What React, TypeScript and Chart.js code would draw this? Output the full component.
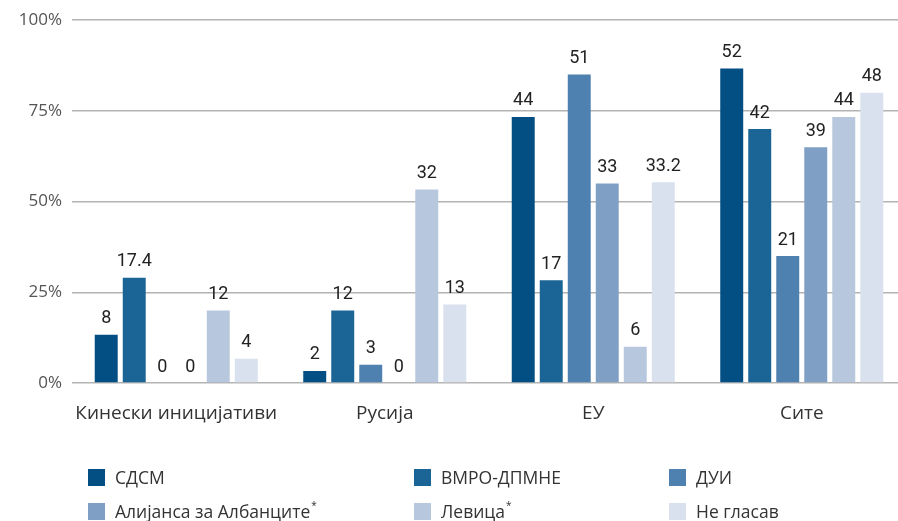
import React, { useEffect, useRef } from "react";
import { Chart, registerables } from "chart.js";

Chart.register(...registerables);

const categories = ["Кинески иницијативи", "Русија", "ЕУ", "Сите"];
const seriesNames = ["СДСМ", "ВМРО-ДПМНЕ", "ДУИ", "Алијанса за Албанците*", "Левица*", "Не гласав"];
const sdsm = [8, 2, 44, 52];
const vmro = [17.4, 12, 17, 42];
const dui = [0, 3, 51, 21];
const alijansa = [0, 0, 33, 39];
const levica = [12, 32, 6, 44];
const neGlasav = [4, 13, 33.2, 48];
const seriesValues = [sdsm, vmro, dui, alijansa, levica, neGlasav];
const colors = ["#034f84", "#1b6596", "#4e80b0", "#7fa0c4", "#b7c8de", "#d9e1ee"];
const valueLabels = [
  ["8", "2", "44", "52"],
  ["17.4", "12", "17", "42"],
  ["0", "3", "51", "21"],
  ["0", "0", "33", "39"],
  ["12", "32", "6", "44"],
  ["4", "13", "33.2", "48"],
];
const yMax = 60;
const yStep = 15;

const valueLabelPlugin = {
  id: "valueLabels",
  afterDatasetsDraw(chart: any) {
    const ctx = chart.ctx;
    ctx.save();
    ctx.font = "400 18px 'Roboto', sans-serif";
    ctx.fillStyle = "#222222";
    ctx.textAlign = "center";
    ctx.textBaseline = "bottom";
    chart.data.datasets.forEach((ds: any, i: number) => {
      const meta = chart.getDatasetMeta(i);
      meta.data.forEach((bar: any, j: number) => {
        ctx.fillText(valueLabels[i][j], bar.x, bar.y - 7);
      });
    });
    ctx.restore();
  },
};

const legendPlugin = {
  id: "customLegend",
  afterDraw(chart: any) {
    const ctx = chart.ctx;
    const colX = [88, 414, 669];
    const rowY = [478, 512];
    ctx.save();
    ctx.font = "17.5px 'Open Sans', sans-serif";
    ctx.textBaseline = "middle";
    ctx.textAlign = "left";
    seriesNames.forEach((name, i) => {
      const x = colX[i % 3];
      const y = rowY[Math.floor(i / 3)];
      ctx.fillStyle = colors[i];
      ctx.fillRect(x, y - 9, 17, 17);
      ctx.fillStyle = "#333333";
      let label = name;
      let star = false;
      if (name.endsWith("*")) {
        label = name.slice(0, -1);
        star = true;
      }
      ctx.fillText(label, x + 27, y + 1);
      if (star) {
        const w = ctx.measureText(label).width;
        ctx.save();
        ctx.font = "10px 'Open Sans', sans-serif";
        ctx.fillText("*", x + 28 + w, y - 6);
        ctx.restore();
      }
    });
    ctx.restore();
  },
};

export default function App() {
  const ref = useRef<HTMLCanvasElement>(null);
  useEffect(() => {
    if (!ref.current) return;
    const chart = new Chart(ref.current, {
      type: "bar",
      data: {
        labels: categories,
        datasets: seriesValues.map((vals, i) => ({
          label: seriesNames[i],
          data: vals,
          backgroundColor: colors[i],
          borderWidth: 0,
          categoryPercentage: 0.806,
          barPercentage: 0.82,
        })),
      },
      options: {
        animation: false,
        responsive: false,
        maintainAspectRatio: false,
        layout: { padding: { top: 19, bottom: 0, left: 0, right: 0 } },
        plugins: {
          legend: { display: false },
          tooltip: { enabled: false },
        },
        scales: {
          x: {
            grid: { display: false, drawTicks: false },
            border: { display: false },
            ticks: {
              color: "#333333",
              font: { family: "'Open Sans', sans-serif", size: 19 },
              padding: 19,
              maxRotation: 0,
            },
            afterFit(scale: any) {
              scale.height = 138;
            },
          },
          y: {
            min: 0,
            max: yMax,
            grid: { color: "#b3b3b3", lineWidth: 1.5, drawTicks: false },
            border: { display: false },
            ticks: {
              stepSize: yStep,
              color: "#555555",
              padding: 10,
              font: { family: "'Open Sans', sans-serif", size: 17 },
              callback: (v: any) => Math.round((Number(v) / yMax) * 100) + "%",
            },
            afterFit(scale: any) {
              scale.width = 72;
            },
          },
        },
      },
      plugins: [valueLabelPlugin, legendPlugin],
    });
    return () => chart.destroy();
  }, []);
  return (
    <div style={{ position: "fixed", left: 0, top: 0, width: 898, height: 521, overflow: "hidden", background: "#fff" }}>
      <canvas ref={ref} width={906} height={521} style={{ width: 906, height: 521, display: "block" }} />
    </div>
  );
}
